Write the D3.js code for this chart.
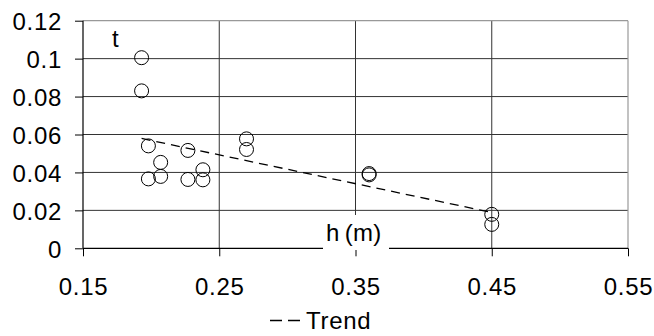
<!DOCTYPE html>
<html><head><meta charset="utf-8">
<script src="https://cdn.jsdelivr.net/npm/d3@7"></script>
<style>body{margin:0;background:#fff}svg{display:block}text{font-family:"Liberation Sans",Arial,sans-serif;font-size:24px;fill:#000;letter-spacing:0.7px}</style>
</head><body><svg id="c" width="654" height="336"></svg>
<script>
const hValues = [0.193,0.193,0.198,0.207,0.207,0.198,0.227,0.227,0.238,0.238,0.270,0.270,0.360,0.360,0.450,0.450];
const tValues = [0.1005,0.083,0.054,0.0453,0.0379,0.0366,0.0516,0.0363,0.0414,0.0361,0.0577,0.0521,0.0387,0.0394,0.0179,0.0126];
const trendH = [0.193,0.45];
const trendT = [0.0579,0.0189];
const xTicks = [0.15,0.25,0.35,0.45,0.55];
const yTicks = [0,0.02,0.04,0.06,0.08,0.1,0.12];

const svg = d3.select("#c");
const L=83,R=628,T=20.7,B=248.3;
const x = d3.scaleLinear().domain([0.15,0.55]).range([L,R]);
const y = d3.scaleLinear().domain([0,0.12]).range([B,T]);

// grid
svg.append("g").selectAll("line").data(yTicks.filter(d=>d>0&&d<0.12)).join("line")
  .attr("x1",L).attr("x2",R).attr("y1",d=>y(d)).attr("y2",d=>y(d))
  .attr("stroke","#333").attr("stroke-width",1);
svg.append("g").selectAll("line").data(xTicks.filter(d=>d>0.15&&d<0.55)).join("line")
  .attr("x1",d=>x(d)).attr("x2",d=>x(d)).attr("y1",T).attr("y2",B)
  .attr("stroke","#333").attr("stroke-width",1);
// border right/top
svg.append("line").attr("x1",R).attr("x2",R).attr("y1",T).attr("y2",B).attr("stroke","#999").attr("stroke-width",1.2);
svg.append("line").attr("x1",L).attr("x2",R).attr("y1",T).attr("y2",T).attr("stroke","#999").attr("stroke-width",1.2);

// axes
const yAxis = d3.axisLeft(y).tickValues(yTicks).tickSize(8).tickFormat(d=>String(+d.toFixed(2)));
const gy = svg.append("g").attr("transform",`translate(${L},0)`).call(yAxis);
const xAxis = d3.axisBottom(x).tickValues(xTicks).tickSize(8).tickFormat(d=>d.toFixed(2));
const gx = svg.append("g").attr("transform",`translate(0,${B})`).call(xAxis);
[gy,gx].forEach(g=>{
  g.attr("font-size",null).attr("font-family",null);
  g.select(".domain").attr("stroke","#000").attr("stroke-width",1.2);
  g.selectAll(".tick line").attr("stroke","#000");
  g.selectAll("text").style("font-size","24px").style("fill","#000");
});
gy.select(".domain").attr("d",`M0,${B}V${T}`);
gx.select(".domain").attr("d",`M${L},0H${R}`);
gy.selectAll("text").attr("x",-21).attr("dy","0.38em");
gx.selectAll("text").attr("y",46.5).attr("dy","0");

// trend
svg.append("path").datum(trendH.map((h,i)=>[h,trendT[i]]))
  .attr("d",d3.line().x(d=>x(d[0])).y(d=>y(d[1])))
  .attr("fill","none").attr("stroke","#000").attr("stroke-width",1.3).attr("stroke-dasharray","9,6");

// points
svg.append("g").selectAll("circle").data(hValues.map((h,i)=>[h,tValues[i]])).join("circle")
  .attr("cx",d=>x(d[0])).attr("cy",d=>y(d[1])).attr("r",7)
  .attr("fill","none").attr("stroke","#000").attr("stroke-width",1);

// labels
svg.append("text").attr("x",112).attr("y",47).text("t");
svg.append("rect").attr("x",323).attr("y",215).attr("width",66).attr("height",35).attr("fill","#fff");
svg.append("text").attr("x",326).attr("y",241).style("letter-spacing","0.3px").text("h\u2009(m)");

// legend
svg.append("line").attr("x1",270).attr("x2",301).attr("y1",320.5).attr("y2",320.5)
  .attr("stroke","#000").attr("stroke-width",1.3).attr("stroke-dasharray","12,6");
svg.append("text").attr("x",306).attr("y",328.5).text("Trend");
</script></body></html>
